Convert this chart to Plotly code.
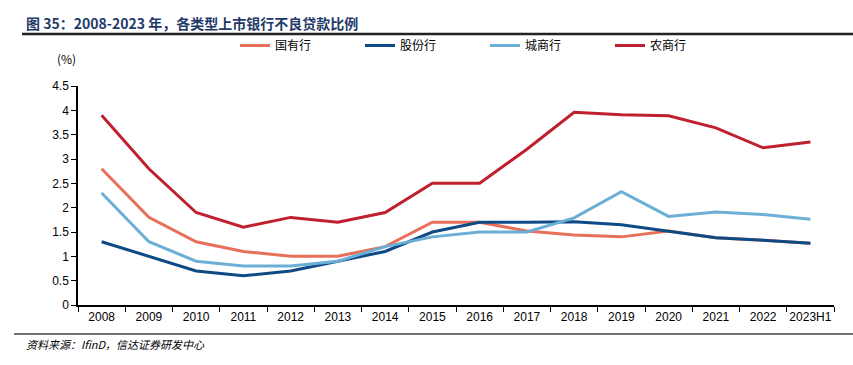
import plotly.graph_objects as go

categories = ["2008", "2009", "2010", "2011", "2012", "2013", "2014", "2015",
              "2016", "2017", "2018", "2019", "2020", "2021", "2022", "2023H1"]
state_owned = [2.8, 1.8, 1.3, 1.1, 1.0, 1.0, 1.2, 1.7, 1.7, 1.52, 1.44, 1.40, 1.52, 1.38, 1.33, 1.27]
joint_stock = [1.3, 1.0, 0.7, 0.6, 0.7, 0.9, 1.1, 1.5, 1.7, 1.7, 1.71, 1.65, 1.51, 1.38, 1.33, 1.27]
city_comm = [2.3, 1.3, 0.9, 0.8, 0.8, 0.9, 1.2, 1.4, 1.5, 1.5, 1.79, 2.33, 1.82, 1.91, 1.86, 1.76]
rural_comm = [3.9, 2.8, 1.9, 1.6, 1.8, 1.7, 1.9, 2.5, 2.5, 3.2, 3.96, 3.91, 3.89, 3.64, 3.23, 3.35]
y_ticks = [0, 0.5, 1, 1.5, 2, 2.5, 3, 3.5, 4, 4.5]
y_tick_labels = ["0", "0.5", "1", "1.5", "2", "2.5", "3", "3.5", "4", "4.5"]

series = [
    ("国有行", state_owned, "#E8705A"),
    ("股份行", joint_stock, "#0E4A86"),
    ("城商行", city_comm, "#6BAED6"),
    ("农商行", rural_comm, "#C01F2E"),
]

fig = go.Figure()
for name, vals, color in series:
    fig.add_trace(go.Scatter(x=categories, y=vals, name=name, mode="lines",
                             line=dict(color=color, width=3)))

font_cn = "Noto Sans CJK SC"
fig.update_layout(
    width=853, height=365,
    margin=dict(l=78, r=19, t=86, b=60, autoexpand=False),
    paper_bgcolor="white", plot_bgcolor="white",
    font=dict(family="Liberation Sans, Arial", size=12, color="black"),
    showlegend=True,
    legend=dict(orientation="h", x=235 / 853, y=1 - 31 / 365, xanchor="left", yanchor="top",
                yref="container", xref="container",
                entrywidth=80, entrywidthmode="pixels",
                font=dict(family=font_cn, size=12, color="black"),
                itemwidth=30, bgcolor="rgba(0,0,0,0)"),
    xaxis=dict(type="category", showgrid=False, showline=True, linecolor="black", linewidth=1.5,
               ticks="outside", tickson="boundaries", ticklen=5, tickcolor="black",
               tickangle=0, automargin=False,
               tickfont=dict(family="Liberation Sans Narrow, Liberation Sans", size=12),
               range=[-0.5, 15.5]),
    yaxis=dict(range=[0, 4.5], tickvals=y_ticks, ticktext=y_tick_labels, showgrid=False,
               showline=True, linecolor="black", linewidth=1.5, ticks="outside",
               ticklen=5, tickcolor="black", zeroline=False, automargin=False,
               tickfont=dict(family="Liberation Sans", size=12)),
)

fig.add_annotation(text="<b>图 35：2008-2023 年，各类型上市银行不良贷款比例</b>",
                   xref="paper", yref="paper", x=(24 - 78) / 756, y=1 + (86 - 23) / 219,
                   xanchor="left", yanchor="middle", showarrow=False,
                   font=dict(family=font_cn, size=14, color="#1F3A68"))
fig.add_annotation(text="(%)", xref="paper", yref="paper",
                   x=(66 - 78) / 756, y=1 + (86 - 58) / 219,
                   xanchor="center", yanchor="middle", showarrow=False,
                   font=dict(family=font_cn, size=12, color="black"))
fig.add_annotation(text="<i>资料来源：IfinD，信达证券研发中心</i>", xref="paper", yref="paper",
                   x=(24 - 78) / 756, y=(305 - 344) / 219,
                   xanchor="left", yanchor="middle", showarrow=False,
                   font=dict(family=font_cn, size=11, color="black"))

fig.add_shape(type="line", xref="paper", yref="paper",
              x0=(22 - 78) / 756, x1=(853 - 78) / 756,
              y0=1 + (86 - 34) / 219, y1=1 + (86 - 34) / 219,
              line=dict(color="#222222", width=2.5))
fig.add_shape(type="line", xref="paper", yref="paper",
              x0=(14 - 78) / 756, x1=(853 - 78) / 756,
              y0=(305 - 334) / 219, y1=(305 - 334) / 219,
              line=dict(color="#444444", width=1.5))

fig.write_html("out.html", config={"displayModeBar": False},
               post_script="document.body.style.margin='0';")
